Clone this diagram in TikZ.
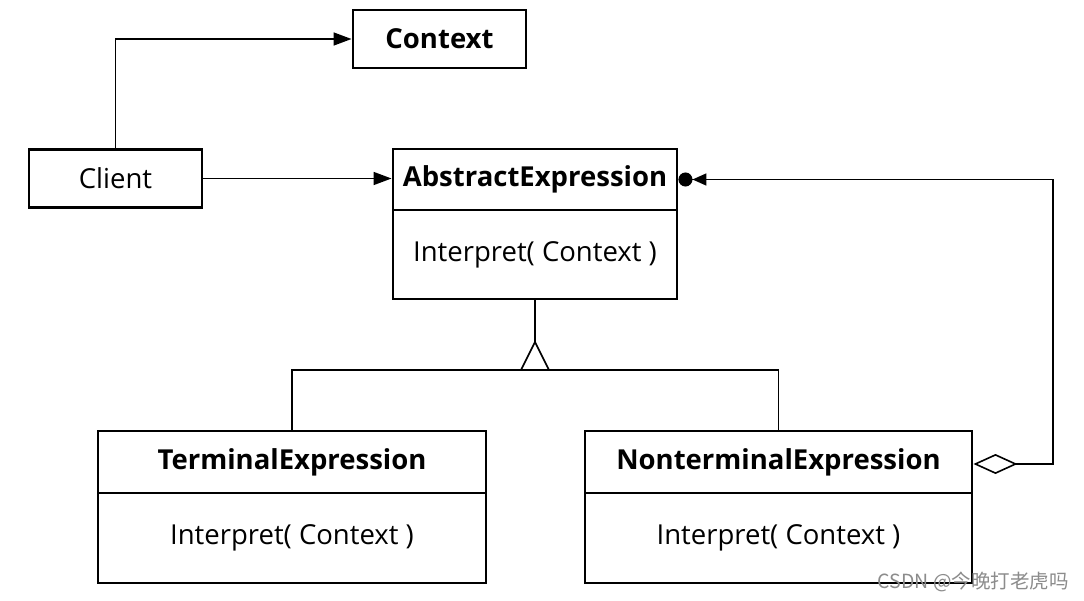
\documentclass[tikz,border=0pt]{standalone}
\usepackage{fontspec}
\setmainfont{Open Sans}
\newfontfamily\cjk{Noto Sans CJK SC}
\usetikzlibrary{arrows.meta}
\begin{document}
\begin{tikzpicture}[x=1pt,y=-1pt,
  box/.style={draw=black,line width=2.9pt,inner sep=0pt,font=\fontsize{27.5}{32}\selectfont},
  titlebox/.style={box,font=\fontsize{27.5}{32}\selectfont\bfseries},
  conn/.style={line width=1.6pt},
  arr/.style={conn,-{Triangle[length=18pt,width=13pt]}}
]
\useasboundingbox[fill=white] (0,0) rectangle (1084,601);
% Context and Client
\node[titlebox,minimum width=173pt,minimum height=58pt] (ctx) at (439.5,39) {Context};
\node[box,minimum width=173pt,minimum height=58pt] (client) at (115.5,178.5) {Client};
% AbstractExpression
\node[titlebox,minimum width=284pt,minimum height=61pt] (aeT) at (535,179.5) {\raisebox{1pt}{AbstractExpression}};
\node[box,minimum width=284pt,minimum height=89pt] (aeB) at (535,254.5) {\raisebox{-3pt}{Interpret( Context )}};
% TerminalExpression
\node[titlebox,minimum width=388pt,minimum height=62pt] (teT) at (292,462) {\raisebox{-1pt}{TerminalExpression}};
\node[box,minimum width=388pt,minimum height=90pt] (teB) at (292,538) {\raisebox{-3pt}{Interpret( Context )}};
% NonterminalExpression
\node[titlebox,minimum width=387pt,minimum height=62pt] (nteT) at (778.5,462) {\raisebox{-1pt}{NonterminalExpression}};
\node[box,minimum width=387pt,minimum height=90pt] (nteB) at (778.5,538) {\raisebox{-3pt}{Interpret( Context )}};
% connectors
\draw[arr] (client.north) |- (ctx.west);
\draw[arr] (client.east) -- (client.east -| aeT.west);
\coordinate (apex) at (535,342);
\coordinate (bar) at (535,370);
\draw[conn] (aeB.south) -- (apex);
\draw[conn] (teT.north) |- (bar) -| (nteT.north);
\draw[conn,fill=white,line join=miter] (apex) -- (549,370) -- (521,370) -- cycle;
\coordinate (corner) at (1053,464);
\draw[conn,{Diamond[open,length=44pt,width=20pt]}-{Triangle[length=14pt,width=12pt] Circle[length=14pt]}] (nteT.east |- corner) -- (corner) |- (aeT.east);
% watermark
\node[anchor=east,text=black!45,font=\cjk\fontsize{19.5}{22}\selectfont,inner sep=0pt] (wm) at (1069,582) {CSDN @今晚打老虎吗};
\end{tikzpicture}
\end{document}
